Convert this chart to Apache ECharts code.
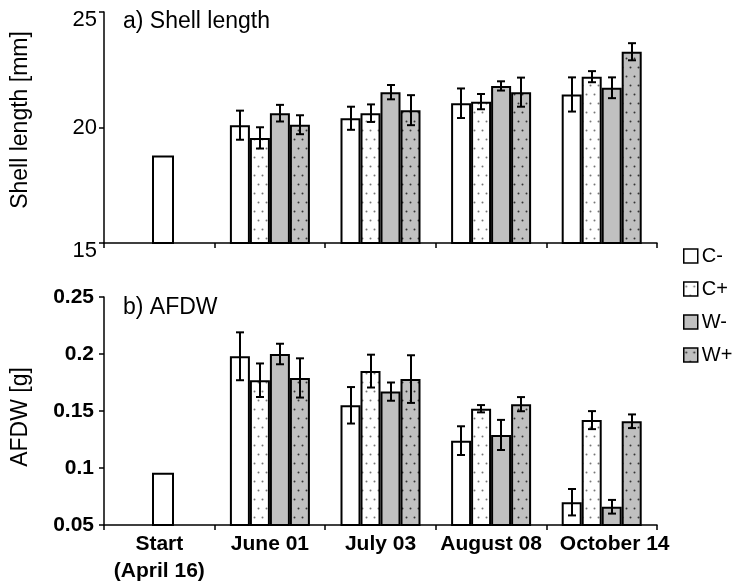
<!DOCTYPE html>
<html>
<head>
<meta charset="utf-8">
<script src="https://cdn.jsdelivr.net/npm/echarts@6/dist/echarts.min.js"></script>
<style>
  html, body { margin: 0; padding: 0; background: #fff; }
  #chart { width: 740px; height: 585px; }
</style>
</head>
<body>
<div id="chart"></div>
<script>
// Sampling dates (x categories)
const categories = ['Start\n(April 16)', 'June 01', 'July 03', 'August 08', 'October 14'];
const treatments = ['C-', 'C+', 'W-', 'W+'];

// a) Shell length [mm] — means for June..October, with error half-widths
const startLength = 18.74;
const lengthCMinus = [20.10, 20.40, 21.05, 21.43];
const lengthCPlus  = [19.55, 20.62, 21.12, 22.20];
const lengthWMinus = [20.62, 21.53, 21.80, 21.72];
const lengthWPlus  = [20.12, 20.75, 21.53, 23.28];
const lengthErrCMinus = [0.63, 0.50, 0.64, 0.74];
const lengthErrCPlus  = [0.46, 0.38, 0.33, 0.24];
const lengthErrWMinus = [0.36, 0.31, 0.20, 0.45];
const lengthErrWPlus  = [0.41, 0.65, 0.63, 0.37];

// b) AFDW [g]
const startAfdw = 0.095;
const afdwCMinus = [0.198, 0.155, 0.124, 0.070];
const afdwCPlus  = [0.177, 0.185, 0.152, 0.142];
const afdwWMinus = [0.200, 0.167, 0.129, 0.066];
const afdwWPlus  = [0.179, 0.178, 0.156, 0.141];
const afdwErrCMinus = [0.0210, 0.0160, 0.0126, 0.0116];
const afdwErrCPlus  = [0.0147, 0.0144, 0.0032, 0.0079];
const afdwErrWMinus = [0.0090, 0.0080, 0.0132, 0.0060];
const afdwErrWPlus  = [0.0172, 0.0209, 0.0062, 0.0060];

// Axis tick settings
const lengthAxis = { min: 15, max: 25, interval: 5 };
const afdwAxis = { min: 0.05, max: 0.25, interval: 0.05 };

const BAR_W = 20;
const FONT = '"Liberation Sans", Arial, sans-serif';
const GREY = '#c0c0c0';

// Stippled fills for the "+" treatments
function dotPattern(bg, dot) {
  const c = document.createElement('canvas');
  c.width = 8; c.height = 18;
  const g = c.getContext('2d');
  g.fillStyle = bg; g.fillRect(0, 0, 8, 18);
  g.fillStyle = dot;
  [[2, 4], [6, 13]].forEach(([x, y]) => {
    g.beginPath(); g.arc(x + 0.5, y + 0.5, 1, 0, Math.PI * 2); g.fill();
  });
  return { image: c, repeat: 'repeat' };
}
const fills = ['#ffffff', dotPattern('#ffffff', '#777777'), GREY, dotPattern(GREY, '#333333')];

const lengthSets = [
  [lengthCMinus, lengthErrCMinus], [lengthCPlus, lengthErrCPlus],
  [lengthWMinus, lengthErrWMinus], [lengthWPlus, lengthErrWPlus]
];
const afdwSets = [
  [afdwCMinus, afdwErrCMinus], [afdwCPlus, afdwErrCPlus],
  [afdwWMinus, afdwErrWMinus], [afdwWPlus, afdwErrWPlus]
];

function barSeries(sets, axisIdx) {
  return sets.map(([vals], k) => ({
    name: treatments[k],
    type: 'bar',
    xAxisIndex: axisIdx, yAxisIndex: axisIdx,
    barWidth: BAR_W, barGap: '0%',
    itemStyle: { color: fills[k], borderColor: '#000', borderWidth: 2 },
    data: ['-'].concat(vals),
    z: 2
  }));
}

function errorSeries(sets, axisIdx) {
  const data = [];
  sets.forEach(([vals, errs], k) => {
    vals.forEach((v, i) => data.push([i + 1, v, errs[i], k]));
  });
  return {
    type: 'custom',
    xAxisIndex: axisIdx, yAxisIndex: axisIdx,
    encode: { x: 0, y: 1 },
    silent: true, z: 10,
    renderItem(params, api) {
      const i = api.value(0), v = api.value(1), e = api.value(2), k = api.value(3);
      const cx = Math.round(api.coord([i, v])[0] + (k - 1.5) * BAR_W);
      const yHi = api.coord([i, v + e])[1];
      const yLo = api.coord([i, v - e])[1];
      const cap = 4;
      const st = { stroke: '#000', lineWidth: 2 };
      return {
        type: 'group',
        children: [
          { type: 'line', shape: { x1: cx, y1: yHi, x2: cx, y2: yLo }, style: st },
          { type: 'line', shape: { x1: cx - cap, y1: yHi, x2: cx + cap, y2: yHi }, style: st },
          { type: 'line', shape: { x1: cx - cap, y1: yLo, x2: cx + cap, y2: yLo }, style: st }
        ]
      };
    },
    data
  };
}

// Single initial-sampling bar in the "Start" slot
function startSeries(value, axisIdx) {
  return {
    type: 'custom',
    xAxisIndex: axisIdx, yAxisIndex: axisIdx,
    encode: { x: 0, y: 1 },
    silent: true, z: 3,
    renderItem(params, api) {
      const top = api.coord([api.value(0), api.value(1)]);
      const base = params.coordSys.y + params.coordSys.height;
      const x = Math.round(top[0] + 4 - BAR_W / 2);
      return {
        type: 'rect',
        shape: { x: x, y: top[1], width: BAR_W, height: base - top[1] },
        style: { fill: '#fff', stroke: '#000', lineWidth: 2 }
      };
    },
    data: [[0, value]]
  };
}

const axisLineStyle = { show: true, lineStyle: { color: '#000', width: 1.5 } };
const tickStyle = { show: true, length: 5, lineStyle: { color: '#000', width: 1.5 } };

const chart = echarts.init(document.getElementById('chart'), null, { renderer: 'canvas' });

chart.setOption({
  animation: false,
  backgroundColor: '#fff',
  textStyle: { fontFamily: FONT },
  grid: [
    { left: 104, top: 12, width: 553, height: 231 },
    { left: 104, top: 297, width: 553, height: 232 }
  ],
  legend: {
    data: treatments,
    orient: 'vertical',
    left: 683, top: 246, padding: 0,
    itemWidth: 14, itemHeight: 14, itemGap: 13,
    icon: 'rect',
    textStyle: { fontSize: 20, color: '#000', fontFamily: FONT, lineHeight: 20, padding: [0, 0, 0, -1] },
    itemStyle: { borderWidth: 1.5 },
    selectedMode: false
  },
  xAxis: [
    {
      type: 'category', gridIndex: 0, data: categories, boundaryGap: true,
      axisLine: axisLineStyle, axisTick: tickStyle, axisLabel: { show: false }
    },
    {
      type: 'category', gridIndex: 1, data: categories, boundaryGap: true,
      axisLine: axisLineStyle, axisTick: tickStyle,
      axisLabel: {
        color: '#000', fontSize: 21, fontWeight: 'bold', fontFamily: FONT,
        margin: 6, lineHeight: 27, interval: 0,
        // the last date label sits a little right of its slot centre
        formatter: (v, idx) => (idx === categories.length - 1 ? '{last|' + v + '}' : v),
        rich: {
          last: { fontSize: 21, fontWeight: 'bold', fontFamily: FONT, color: '#000', padding: [0, 0, 0, 26] }
        }
      }
    }
  ],
  yAxis: [
    {
      type: 'value', gridIndex: 0,
      min: lengthAxis.min, max: lengthAxis.max, interval: lengthAxis.interval,
      axisLine: axisLineStyle, axisTick: tickStyle, splitLine: { show: false },
      axisLabel: {
        color: '#000', fontSize: 22, fontFamily: FONT, margin: 7,
        formatter: v => (v === 20 ? String(v) : '{low|' + v + '}'),
        rich: { low: { fontSize: 22, fontFamily: FONT, color: '#000', padding: [16, 0, 0, 0] } }
      }
    },
    {
      type: 'value', gridIndex: 1,
      min: afdwAxis.min, max: afdwAxis.max, interval: afdwAxis.interval,
      axisLine: axisLineStyle, axisTick: tickStyle, splitLine: { show: false },
      axisLabel: {
        color: '#000', fontSize: 21, fontWeight: 'bold', fontFamily: FONT, margin: 10,
        formatter: v => String(+v.toFixed(2))
      }
    }
  ],
  graphic: [
    { type: 'text', left: 123, top: 10, style: { text: 'a) Shell length', font: '23px ' + FONT, fill: '#000' } },
    { type: 'text', left: 123, top: 296, style: { text: 'b) AFDW', font: '23px ' + FONT, fill: '#000' } },
    {
      type: 'text', x: 21, y: 120, rotation: Math.PI / 2,
      style: { text: 'Shell length [mm]', font: '23px ' + FONT, fill: '#000', textAlign: 'center', textVerticalAlign: 'middle' }
    },
    {
      type: 'text', x: 21, y: 417, rotation: Math.PI / 2,
      style: { text: 'AFDW [g]', font: '23px ' + FONT, fill: '#000', textAlign: 'center', textVerticalAlign: 'middle' }
    }
  ],
  series: [].concat(
    barSeries(lengthSets, 0),
    [startSeries(startLength, 0), errorSeries(lengthSets, 0)],
    barSeries(afdwSets, 1),
    [startSeries(startAfdw, 1), errorSeries(afdwSets, 1)]
  )
});
</script>
</body>
</html>
